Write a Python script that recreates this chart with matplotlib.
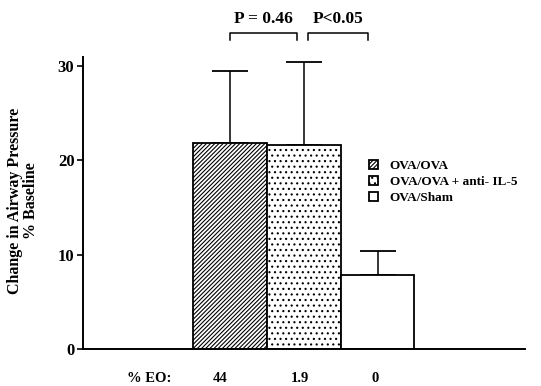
import numpy as np
import matplotlib.pyplot as plt

plt.rcParams['font.family'] = ['Liberation Serif', 'DejaVu Serif']
plt.rcParams['font.weight'] = 'bold'
plt.rcParams['hatch.linewidth'] = 0.8

# --- data ---
groups = ['OVA/OVA', 'OVA/OVA + anti- IL-5', 'OVA/Sham']
means = [21.8, 21.6, 7.8]
errs = [7.7, 8.8, 2.6]
eo_labels = ['44', '1.9', '0']
hatches = ['////////', '...', '']
p_labels = ['P = 0.46', 'P<0.05']

fig = plt.figure(figsize=(5.41, 3.86), dpi=100)
ax = fig.add_axes([0.1529, 0.0959, 0.8175, 0.757])

xpos = np.arange(len(means)) + 2.0
for x, m, h, g in zip(xpos, means, hatches, groups):
    ax.bar(x, m, width=1.0, facecolor='white', edgecolor='black',
           linewidth=1.3, hatch=h, label=g, zorder=2)

ax.errorbar(xpos, means, yerr=[np.zeros(len(errs)), errs], fmt='none',
            ecolor='black', elinewidth=1.1, capsize=13, capthick=1.3, zorder=1)

ax.set_xlim(0, 6)
ax.set_ylim(0, 31)
ax.set_yticks([0, 10, 20, 30])
ax.set_xticks([])
ax.tick_params(axis='y', direction='out', length=4, width=1.2, labelsize=12, pad=2)
for lab in ax.get_yticklabels():
    lab.set_fontweight('bold')
for s in ['top', 'right']:
    ax.spines[s].set_visible(False)
for s in ['left', 'bottom']:
    ax.spines[s].set_linewidth(1.4)

fig.text(23 / 541, 1 - 201 / 386, 'Change in Airway Pressure\n% Baseline',
         rotation=90, ha='center', va='center', fontsize=11.5,
         fontweight='bold', linespacing=0.95)

# % EO row under the axis
eo_x = [1.87, 2.95, 3.97]
ax.text(0.9, -3.1, '% EO:', ha='center', va='center', fontsize=10.5,
        fontweight='bold', clip_on=False)
for x, lab in zip(eo_x, eo_labels):
    ax.text(x, -3.1, lab, ha='center', va='center', fontsize=10.5,
            fontweight='bold', clip_on=False)

# significance brackets
brackets = [(2.0, 2.91), (3.06, 3.87)]
for (x0, x1), p in zip(brackets, p_labels):
    ax.plot([x0, x0, x1, x1], [32.8, 33.5, 33.5, 32.8], color='black',
            lw=1.1, clip_on=False)
    ax.text((x0 + x1) / 2, 35.0, p, ha='center', va='center', fontsize=12.5,
            fontweight='bold', clip_on=False)

leg = ax.legend(loc='upper left', bbox_to_anchor=(3.88, 20.1),
                bbox_transform=ax.transData, frameon=False, fontsize=9.5,
                labelspacing=0.3, handlelength=0.7, handleheight=0.7,
                handletextpad=0.9, borderaxespad=0, borderpad=0)
for t in leg.get_texts():
    t.set_fontweight('bold')

fig.savefig('out.png', dpi=100)
